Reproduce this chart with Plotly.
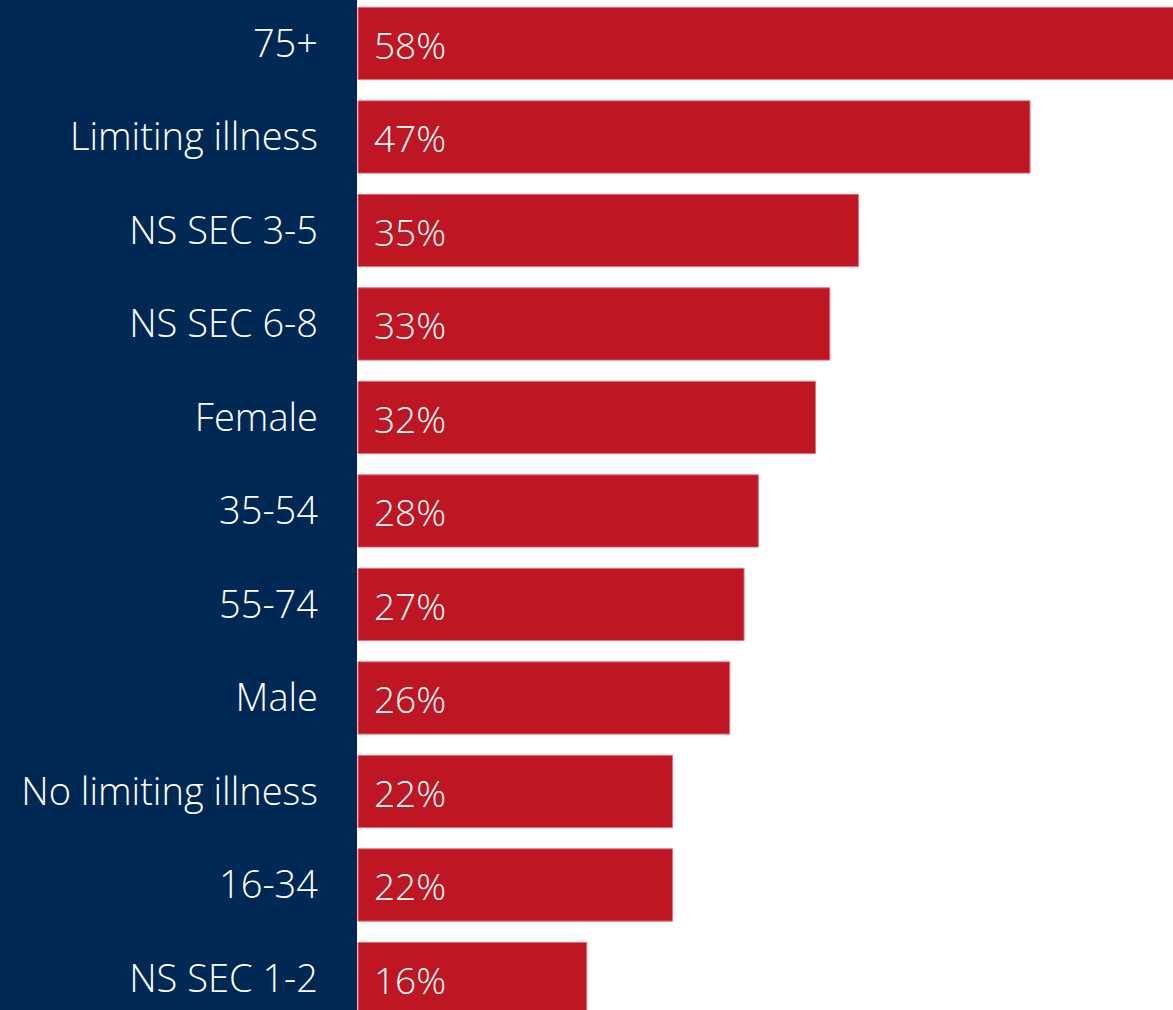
import plotly.graph_objects as go

# Share of each group (percent), top to bottom
groups = ["75+", "Limiting illness", "NS SEC 3-5", "NS SEC 6-8", "Female",
          "35-54", "55-74", "Male", "No limiting illness", "16-34", "NS SEC 1-2"]
shares = [58, 47, 35, 33, 32, 28, 27, 26, 22, 22, 16]

NAVY = "#002855"
RED = "#BE1622"
FONT = "Open Sans"

fig = go.Figure(
    go.Bar(
        x=shares,
        y=groups,
        orientation="h",
        marker=dict(color=RED, line=dict(color="#E3707A", width=1)),
        hoverinfo="skip",
    )
)

# Value labels sit just inside the start of each bar
for g, v in zip(groups, shares):
    fig.add_annotation(
        x=0, y=g, xref="x", yref="y",
        text=f"{v}%", showarrow=False,
        xanchor="left", yanchor="middle", xshift=14, yshift=-1,
        font=dict(family=FONT, size=37, color="white", weight=300),
    )

fig.update_layout(
    width=1173, height=1010,
    margin=dict(l=357, r=0, t=0, b=0),
    paper_bgcolor=NAVY,
    plot_bgcolor="white",
    bargap=0.227,
    showlegend=False,
    xaxis=dict(range=[-0.07, 57.0], visible=False, showgrid=False, zeroline=False),
    yaxis=dict(
        autorange=False,
        range=[10.337, -0.465],
        showgrid=False, zeroline=False, showline=False, ticks="",
        tickfont=dict(family=FONT, size=38, color="white", weight=300),
        ticklabelstandoff=38,
    ),
)

fig.write_html("out.html")
